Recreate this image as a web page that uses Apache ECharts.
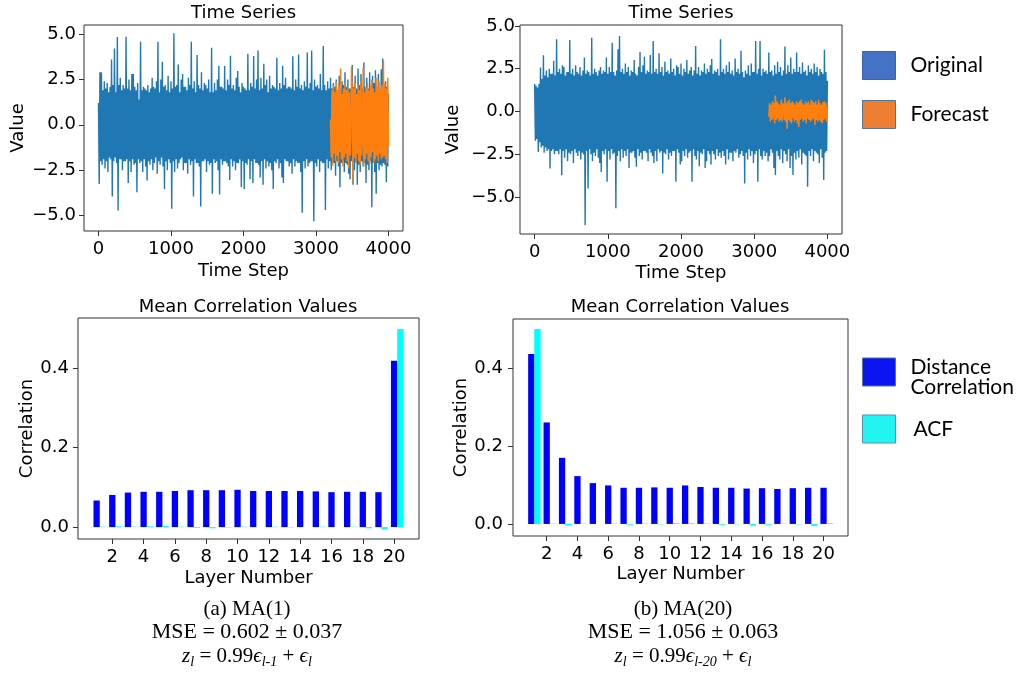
<!DOCTYPE html>
<html>
<head>
<meta charset="utf-8">
<script src="https://cdn.jsdelivr.net/npm/echarts@6/dist/echarts.min.js"></script>
<style>
html,body{margin:0;padding:0;background:#ffffff;}
#chart{width:1021px;height:689px;}
</style>
</head>
<body>
<div id="chart"></div>
<script>
// ---------------- DATA ----------------
// Dense noisy series, read from the picture as upper samples (t = 0,20,...,4000)
// and lower samples (t = 10,30,...,3990).
const sampleStep = 20;
const forecastStart = 3200;
const forecastStep = 10;

const ma1Upper = [
  1.2, 2.9, 2.9, 1.9, 2.4, 2.0, 2.3, 1.8, 2.1, 3.6,
  2.2, 4.2, 1.8, 4.84, 2.2, 2.6, 1.9, 2.2, 2.0, 4.85,
  2.0, 2.5, 1.9, 2.8, 2.8, 2.1, 1.9, 2.3, 1.4, 4.58,
  1.9, 2.1, 2.0, 1.9, 2.2, 1.8, 2.0, 2.6, 2.1, 2.0,
  2.4, 4.58, 1.8, 2.5, 3.48, 2.1, 2.2, 1.9, 2.7, 1.8,
  2.4, 2.0, 5.04, 2.1, 2.2, 3.33, 1.8, 2.5, 2.8, 2.1,
  2.1, 1.9, 2.6, 2.2, 4.58, 2.0, 2.4, 1.8, 3.85, 2.2,
  2.0, 2.9, 1.9, 2.3, 2.2, 2.0, 2.5, 1.8, 4.25, 1.8,
  2.3, 1.9, 2.5, 3.24, 2.1, 2.1, 2.0, 3.24, 1.9, 2.5,
  2.2, 3.8, 2.0, 2.2, 1.9, 2.6, 2.97, 2.1, 1.8, 2.3,
  2.1, 2.0, 1.9, 3.92, 1.9, 2.3, 2.1, 3.79, 2.0, 2.5,
  4.1, 1.9, 2.6, 2.0, 3.37, 2.2, 2.5, 1.8, 2.7, 2.0,
  2.2, 2.1, 2.0, 3.7, 1.9, 2.3, 2.0, 3.25, 2.2, 2.6,
  2.0, 2.1, 2.1, 2.0, 3.78, 1.9, 2.5, 2.1, 3.88, 2.0,
  2.2, 1.9, 2.4, 2.1, 3.98, 2.0, 2.3, 4.1, 1.9, 2.5,
  2.1, 2.2, 2.0, 2.8, 1.9, 4.34, 2.2, 1.9, 2.4, 2.0,
  2.6, 2.0, 2.3, 2.1, 2.5, 1.9, 2.7, 2.0, 2.4, 2.2,
  2.9, 2.1, 2.5, 2.0, 2.0, 3.3, 2.1, 2.7, 2.0, 3.1,
  2.2, 2.8, 2.0, 3.43, 2.1, 2.6, 2.0, 2.9, 2.1, 2.7,
  2.3, 3.0, 2.1, 2.8, 2.0, 3.06, 3.65, 2.2, 2.4, 2.1,
  1.7
];
const ma1Lower = [
  -3.26, -2.0, -2.2, -1.9, -2.4, -2.0, -2.6, -1.8, -1.9, -3.95,
  -2.0, -1.8, -2.1, -4.72, -1.9, -1.9, -2.5, -2.0, -2.0, -1.9,
  -3.2, -2.0, -2.6, -1.9, -2.2, -2.1, -3.72, -1.9, -2.1, -2.0,
  -2.6, -1.9, -2.3, -3.07, -2.0, -2.2, -1.9, -2.5, -2.1, -1.8,
  -2.7, -2.0, -2.2, -1.8, -2.3, -3.53, -2.0, -2.5, -1.9, -2.1,
  -4.63, -2.0, -2.6, -1.9, -2.4, -2.1, -1.9, -1.8, -2.5, -2.1,
  -2.1, -2.7, -1.9, -2.2, -2.0, -3.95, -1.9, -2.1, -2.1, -2.3,
  -4.5, -2.0, -2.0, -1.9, -2.6, -2.0, -2.2, -2.1, -3.8, -1.9,
  -2.1, -2.0, -2.5, -3.84, -1.9, -2.2, -2.0, -2.0, -2.1, -2.3,
  -3.04, -1.9, -2.3, -2.0, -2.5, -2.1, -2.1, -1.9, -3.44, -2.0,
  -3.53, -2.1, -2.2, -1.9, -3.0, -2.0, -3.2, -1.9, -2.1, -2.1,
  -2.2, -2.9, -2.0, -3.3, -1.9, -2.4, -2.0, -2.3, -2.1, -2.5,
  -3.53, -2.0, -2.1, -1.9, -2.4, -2.1, -2.9, -3.2, -1.9, -2.0,
  -2.0, -2.3, -2.1, -2.7, -1.9, -2.3, -2.0, -2.1, -2.1, -2.6,
  -4.85, -2.0, -2.4, -1.9, -2.3, -2.1, -2.0, -2.0, -5.31, -2.1,
  -2.3, -1.9, -2.6, -2.0, -2.1, -2.1, -4.69, -1.9, -2.4, -2.0,
  -2.5, -2.1, -2.1, -2.8, -2.0, -2.3, -3.44, -2.1, -2.0, -2.6,
  -2.1, -2.2, -2.7, -3.0, -2.0, -3.3, -2.5, -2.1, -3.3, -2.2,
  -2.6, -2.0, -2.3, -2.1, -3.2, -2.2, -2.5, -2.0, -4.54, -2.1,
  -2.6, -3.8, -2.1, -2.5, -2.2, -2.3, -2.1, -2.2, -3.17, -2.3
];
const ma1Forecast = [
  0.3, -1.8, 1.9, -2.25, 2.2, -1.6, 1.8, -2.0, 2.4, -1.7,
  1.9, -2.1, 2.2, -1.5, 3.1, -1.9, 1.7, -2.3, 2.0, -1.8,
  2.3, -1.6, 1.9, -2.0, 2.1, -2.4, 1.8, -1.7, -0.6, 3.2,
  1.8, -3.17, 2.0, -1.8, 2.3, -2.1, 1.7, -1.6, 2.2, -2.0,
  1.9, -2.2, 2.4, -1.7, -0.8, 3.15, -2.3, 1.8, -1.9, 2.1,
  -1.6, 2.3, -2.0, 1.9, -2.16, 2.2, -1.8, 2.5, -1.5, 2.0,
  -2.1, 1.8, -1.9, 2.6, -1.7, 2.1, -2.0, 2.4, -1.6, 2.0,
  -1.9, 2.2, -1.8, 3.55, -1.7, 2.3, -1.9, 2.0, -2.1, 2.6,
  -1.2
];
const ma20Upper = [
  1.6, 1.5, 1.4, 1.6, 2.57, 1.9, 3.29, 2.1, 2.4, 2.0,
  2.5, 2.2, 2.2, 2.96, 2.1, 4.22, 2.3, 2.5, 2.2, 2.7,
  2.6, 2.1, 2.3, 2.3, 4.18, 2.2, 2.5, 2.1, 2.7, 2.3,
  2.2, 2.6, 2.1, 2.4, 3.15, 2.2, 2.4, 2.3, 2.1, 4.31,
  2.2, 2.5, 2.3, 2.1, 2.4, 2.6, 2.2, 2.4, 2.3, 3.15,
  2.2, 2.6, 2.3, 4.02, 2.3, 2.1, 2.4, 3.64, 4.41, 2.3,
  2.5, 2.2, 2.8, 2.3, 2.6, 2.1, 2.4, 2.3, 3.0, 2.2,
  2.1, 2.6, 3.48, 2.3, 2.7, 3.2, 2.2, 2.4, 2.3, 3.3,
  2.2, 4.12, 2.3, 2.5, 2.2, 3.4, 2.3, 2.6, 2.1, 2.9,
  2.3, 2.4, 2.2, 3.1, 2.3, 2.5, 2.1, 2.7, 2.6, 2.2,
  2.8, 2.1, 2.5, 2.3, 3.0, 2.2, 2.4, 2.6, 2.1, 2.4,
  3.83, 2.2, 2.6, 2.1, 2.4, 2.3, 2.8, 2.2, 2.5, 2.3,
  2.7, 3.06, 2.2, 2.4, 2.3, 2.5, 2.1, 4.22, 2.3, 2.5,
  2.2, 2.7, 2.3, 2.9, 2.2, 2.4, 2.1, 3.1, 2.3, 2.5,
  2.2, 3.54, 2.3, 2.0, 2.4, 2.2, 2.7, 2.1, 2.8, 2.3,
  2.3, 4.12, 2.2, 2.5, 4.12, 2.1, 2.5, 2.3, 2.4, 2.2,
  3.44, 2.3, 2.4, 2.1, 2.7, 2.2, 2.9, 2.3, 2.6, 2.1,
  2.4, 3.79, 2.2, 2.7, 2.3, 3.15, 2.2, 2.5, 2.3, 3.44,
  2.3, 2.6, 2.2, 2.86, 2.3, 2.4, 2.1, 2.7, 2.3, 2.5,
  2.2, 2.8, 2.3, 2.6, 2.1, 2.5, 2.3, 2.2, 3.6, 2.3,
  1.8
];
const ma20Lower = [
  -1.7, -1.6, -2.36, -1.8, -2.1, -2.0, -2.4, -2.1, -2.3, -2.2,
  -3.33, -2.3, -2.2, -2.5, -2.3, -2.3, -2.5, -2.2, -3.72, -2.3,
  -2.7, -2.2, -2.9, -2.4, -2.5, -2.3, -3.0, -2.2, -2.4, -2.6,
  -2.3, -2.8, -2.4, -2.5, -6.62, -2.3, -4.49, -2.2, -2.5, -2.9,
  -2.4, -2.6, -2.2, -2.7, -3.0, -3.53, -2.3, -2.5, -2.2, -4.1,
  -2.3, -2.8, -2.2, -2.5, -2.4, -5.65, -2.6, -2.3, -2.9, -2.2,
  -2.7, -2.3, -2.6, -2.2, -3.3, -2.4, -2.4, -2.3, -2.7, -3.23,
  -2.2, -2.6, -2.4, -2.8, -2.3, -2.3, -2.4, -2.9, -2.2, -2.4,
  -2.6, -3.0, -2.3, -2.9, -2.2, -2.4, -2.3, -3.62, -2.4, -2.5,
  -2.2, -2.8, -2.4, -2.6, -2.3, -2.3, -4.1, -2.2, -2.4, -3.1,
  -2.9, -2.3, -2.6, -2.2, -2.7, -2.4, -2.3, -4.1, -2.2, -2.6,
  -2.8, -2.3, -3.2, -2.4, -2.5, -2.2, -3.3, -2.9, -2.3, -2.5,
  -3.1, -2.3, -2.5, -2.8, -2.2, -2.6, -2.4, -2.7, -2.3, -2.6,
  -3.1, -2.2, -2.8, -2.4, -2.4, -2.9, -2.3, -2.4, -2.2, -2.7,
  -2.5, -2.3, -2.6, -4.2, -2.4, -2.8, -2.2, -2.6, -2.3, -3.0,
  -2.5, -2.3, -4.1, -2.2, -2.6, -2.8, -2.3, -2.6, -2.4, -2.9,
  -2.6, -2.2, -2.4, -3.3, -3.7, -2.3, -2.6, -2.8, -2.2, -3.0,
  -2.3, -2.5, -2.9, -2.2, -3.3, -2.6, -3.7, -2.4, -2.8, -2.3,
  -2.7, -2.2, -3.1, -2.4, -2.5, -2.6, -4.39, -2.3, -2.6, -2.2,
  -2.9, -2.3, -2.4, -2.5, -3.0, -2.2, -2.7, -4.0, -2.4, -2.3
];
const ma20Forecast = [
  -0.3, 0.5, -0.6, 0.4, -0.5, 0.6, -0.4, 0.5, -0.7, 0.93,
  -0.5, 0.6, -0.4, 0.5, -0.6, 0.4, -0.5, 0.7, -0.6, 0.5,
  0.3, -0.5, 0.84, -0.6, 0.5, -1.0, 0.6, -0.5, 0.7, -0.6,
  0.5, -0.7, 0.6, -0.4, 0.5, -0.6, 0.4, -0.5, 0.6, -0.7,
  0.5, -0.91, 0.6, -0.5, 0.7, -0.4, 0.5, -0.6, 0.4, -0.5,
  0.6, -0.7, 0.5, -0.4, 0.6, -0.5, 0.4, -0.6, 0.7, -0.5,
  0.6, -0.4, 0.5, -0.8, 0.6, -0.5, 0.4, -0.6, 0.7, -0.5,
  0.5, -0.6, 0.4, -0.7, 0.55, -0.5, 0.6, -0.4, 0.5, -0.6,
  0.2
];

// Mean correlation values per layer
const layers = [1,2,3,4,5,6,7,8,9,10,11,12,13,14,15,16,17,18,19,20];
const ma1DistCorr = [0.067,0.081,0.087,0.089,0.089,0.091,0.093,0.093,0.093,0.094,
                     0.091,0.091,0.091,0.091,0.090,0.088,0.089,0.089,0.088,0.419];
const ma1Acf      = [0.001,0.002,0.001,0.002,0.003,0.001,-0.002,-0.003,-0.001,0.001,
                     0.000,0.001,-0.001,0.000,0.001,0.000,0.001,-0.003,-0.005,0.499];
const ma20DistCorr = [0.437,0.261,0.170,0.123,0.105,0.099,0.093,0.093,0.094,0.093,
                      0.099,0.095,0.093,0.093,0.091,0.092,0.090,0.092,0.093,0.093];
const ma20Acf      = [0.501,0.001,-0.004,0.001,0.000,0.001,-0.002,0.001,-0.001,0.002,
                      0.002,0.001,-0.002,-0.001,-0.004,-0.002,0.001,-0.001,-0.005,0.002];

const timeTicks = [0,1000,2000,3000,4000];
const valueTicks = [-5,-2.5,0,2.5,5];
const layerTicks = [2,4,6,8,10,12,14,16,18,20];
const corrTicks = [0,0.2,0.4];

const captionA = ['(a) MA(1)', 'MSE = 0.602 \u00b1 0.037', '{i|z}{s|l} = 0.99{i|\u03f5}{s|l-1} + {i|\u03f5}{s|l}'];
const captionB = ['(b) MA(20)', 'MSE = 1.056 \u00b1 0.063', '{i|z}{s|l} = 0.99{i|\u03f5}{s|l-20} + {i|\u03f5}{s|l}'];

// ---------------- BUILD ----------------
const FONT = "'DejaVu Sans', sans-serif";
const SERIF = "'Liberation Serif', 'DejaVu Serif', serif";
const LFONT = "Lato, 'Open Sans', sans-serif";
const C_ORIG = '#1f77b4', C_FC = '#ff7f0e', C_DC = '#0000ff', C_ACF = '#00ffff';

function toPairs(vals, start, step){ return vals.map((v,i)=>[start + i*step, v]); }
// merge the upper (t = 20i) and lower (t = 20i + 10) samples in time order
function mergeSamples(upper, lower, step){
  const out = [];
  upper.forEach((v, i) => {
    out.push([i*step, v]);
    if (i < lower.length) out.push([i*step + step/2, lower[i]]);
  });
  return out;
}
const fmtVal = v => (v < 0 ? '\u2212' : '') + Math.abs(v).toFixed(1);

function axisCommon(gridIndex, min, max, ticks, fmt, name, gap, margin){
  return {
    type:'value', gridIndex, min, max,
    name, nameLocation:'middle', nameGap:gap,
    nameTextStyle:{fontSize:18, color:'#000', fontFamily:FONT},
    axisLine:{show:false, onZero:false},
    axisTick:{show:true, length:5, customValues:ticks, lineStyle:{color:'#333', width:1}},
    axisLabel:{customValues:ticks, formatter:fmt, color:'#000', fontSize:18, fontFamily:FONT, margin:margin},
    splitLine:{show:false}
  };
}

const grids = [
  {left:84, top:25, width:319, height:206},
  {left:520, top:25, width:322, height:209},
  {left:78, top:318, width:341, height:221},
  {left:513, top:319, width:335, height:217}
].map(g => Object.assign({show:true, borderColor:'#333', borderWidth:1, backgroundColor:'transparent'}, g));

const xAxes = [
  axisCommon(0, -200, 4200, timeTicks, v=>String(v), 'Time Step', 31, 9),
  axisCommon(1, -200, 4200, timeTicks, v=>String(v), 'Time Step', 30, 9),
  axisCommon(2, -0.19, 21.59, layerTicks, v=>String(v), 'Layer Number', 30, 9),
  axisCommon(3, -0.19, 21.59, layerTicks, v=>String(v), 'Layer Number', 29, 9)
];
const yAxes = [
  axisCommon(0, -5.85, 5.5, valueTicks, fmtVal, 'Value', 57, 8),
  axisCommon(1, -7.15, 5.05, valueTicks, fmtVal, 'Value', 58, 5),
  axisCommon(2, -0.03, 0.527, corrTicks, v=>v.toFixed(1), 'Correlation', 42, 9),
  axisCommon(3, -0.031, 0.527, corrTicks, v=>v.toFixed(1), 'Correlation', 41, 10)
];

function lineSeries(name, idx, data, color, width){
  return {type:'line', name, xAxisIndex:idx, yAxisIndex:idx, data, showSymbol:false, symbol:'none',
    sampling:'none', color, lineStyle:{color, width, join:'bevel'}, animation:false};
}
function barSeries(name, idx, data, color){
  return {type:'bar', name, xAxisIndex:idx, yAxisIndex:idx, data, barWidth:6.3, barGap:'-100%',
    itemStyle:{color}, animation:false};
}

const series = [
  lineSeries('Original', 0, mergeSamples(ma1Upper, ma1Lower, sampleStep), C_ORIG, 1.4),
  lineSeries('Forecast', 0, toPairs(ma1Forecast, forecastStart, forecastStep), C_FC, 1.5),
  lineSeries('Original', 1, mergeSamples(ma20Upper, ma20Lower, sampleStep), C_ORIG, 1.4),
  lineSeries('Forecast', 1, toPairs(ma20Forecast, forecastStart, forecastStep), C_FC, 1.5),
  barSeries('Distance Correlation', 2, layers.map((l,i)=>[l, ma1DistCorr[i]]), C_DC),
  barSeries('ACF', 2, layers.map((l,i)=>[l + 0.4, ma1Acf[i]]), C_ACF),
  barSeries('Distance Correlation', 3, layers.map((l,i)=>[l, ma20DistCorr[i]]), C_DC),
  barSeries('ACF', 3, layers.map((l,i)=>[l + 0.4, ma20Acf[i]]), C_ACF)
];

const titleStyle = {fontSize:18, fontWeight:'normal', color:'#000', fontFamily:FONT};
const titles = [
  {text:'Time Series', left:243.5, top:4, textAlign:'center', padding:0, textStyle:titleStyle},
  {text:'Time Series', left:681, top:4, textAlign:'center', padding:0, textStyle:titleStyle},
  {text:'Mean Correlation Values', left:248, top:298, textAlign:'center', padding:0, textStyle:titleStyle},
  {text:'Mean Correlation Values', left:680, top:298, textAlign:'center', padding:0, textStyle:titleStyle}
];

const legendText = {fontSize:21, fontFamily:LFONT, color:'#000', padding:[0,0,0,10]};
const legends = [
  {orient:'vertical', left:862, top:51, itemWidth:33, itemHeight:28, itemGap:20, padding:0,
   selectedMode:false, icon:'rect', textStyle:legendText,
   data:[{name:'Original', itemStyle:{color:'#4472C4', borderColor:'#3b64ad', borderWidth:1}},
         {name:'Forecast', itemStyle:{color:'#ED7D31', borderColor:'#56739a', borderWidth:1}}]},
  {orient:'vertical', left:862, top:351, itemWidth:33, itemHeight:28, itemGap:17, padding:0,
   selectedMode:false, icon:'rect',
   textStyle:{fontSize:21, fontFamily:LFONT, color:'#000', padding:[0,0,0,10],
     rich:{
       e:{fontSize:2, lineHeight:10},
       n:{fontSize:21, fontFamily:LFONT, color:'#000', lineHeight:20}
     }},
   formatter: n => n === 'Distance Correlation' ? '{e| }\n{n|Distance}\n{n|Correlation}' : n,
   data:[{name:'Distance Correlation', itemStyle:{color:'#0a16f2', borderColor:'#5a6f9a', borderWidth:1}},
         {name:'ACF', itemStyle:{color:'#22f4f4', borderColor:'#5a8fb0', borderWidth:1},
          textStyle:{fontSize:21, fontFamily:LFONT, color:'#000', padding:[0,0,0,13]}}]}
];

function captionGraphics(lines, cx){
  const ys = [609, 632, 656];
  const sizes = [21, 22, 21];
  return lines.map((t, k) => ({
    type:'text', x:cx, y:ys[k], silent:true,
    style:{
      text:t, fill:'#000', fontSize:sizes[k], fontFamily:SERIF, lineHeight:26,
      align:'center', verticalAlign:'middle', textAlign:'center', textVerticalAlign:'middle',
      rich:{
        i:{fontStyle:'italic', fontSize:21, fontFamily:SERIF, lineHeight:26},
        s:{fontStyle:'italic', fontSize:14, fontFamily:SERIF, lineHeight:14, verticalAlign:'bottom'}
      }
    }
  }));
}

const chart = echarts.init(document.getElementById('chart'), null, {renderer:'canvas'});
chart.setOption({
  backgroundColor:'#ffffff',
  animation:false,
  title:titles,
  legend:legends,
  grid:grids,
  xAxis:xAxes,
  yAxis:yAxes,
  series,
  graphic:[...captionGraphics(captionA, 247), ...captionGraphics(captionB, 683)]
});
</script>
</body>
</html>
